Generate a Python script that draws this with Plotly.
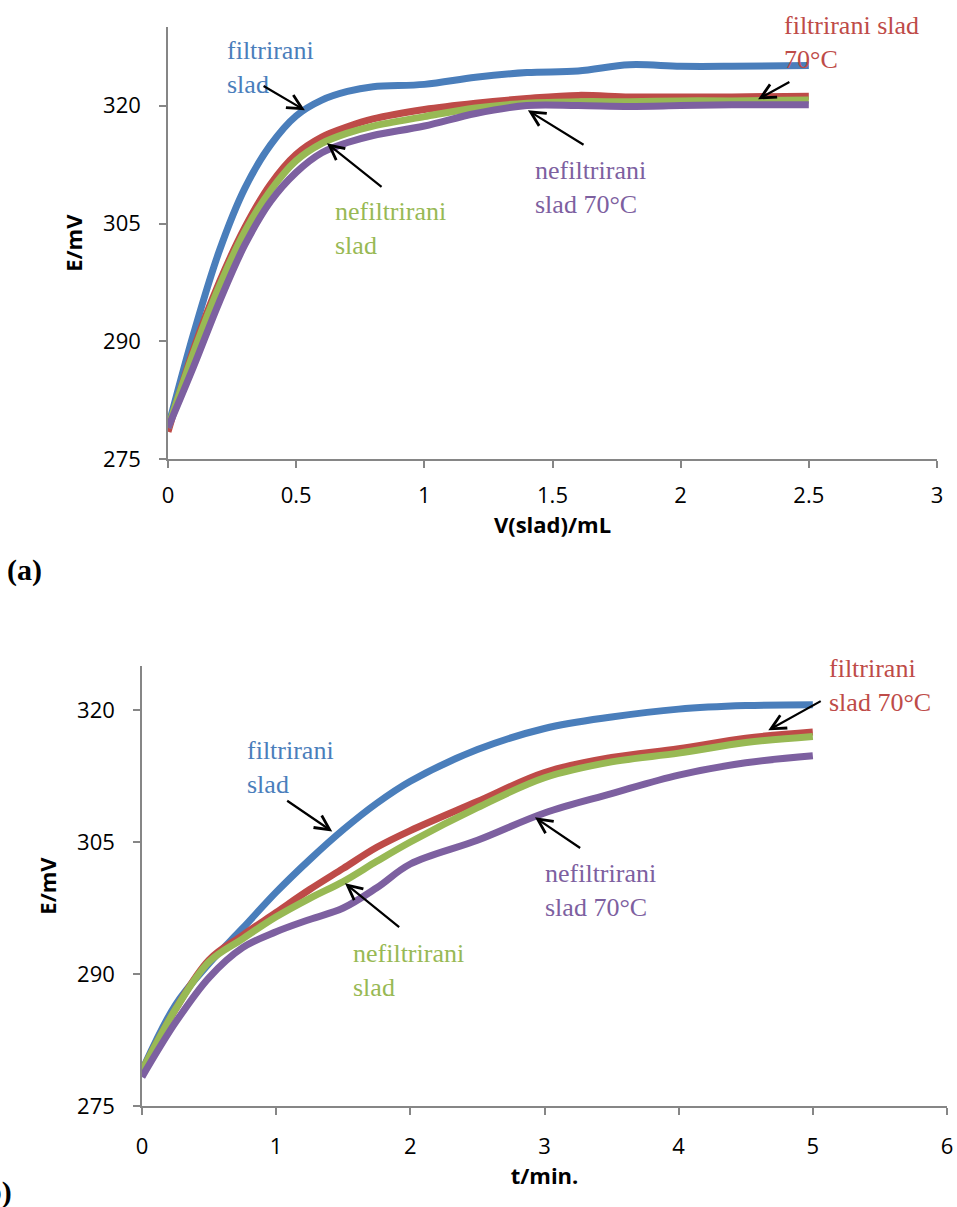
import plotly.graph_objects as go

W, H = 957, 1207

# ---------------- data: panel (a) ----------------
v_ml = [0, 0.1, 0.2, 0.3, 0.4, 0.5, 0.6, 0.7, 0.8, 1.0, 1.2, 1.4, 1.6, 1.8, 2.0, 2.2, 2.5]
a_filtrirani = [279, 291, 301.5, 309.5, 315, 318.7, 320.7, 321.8, 322.4, 322.7, 323.6, 324.2, 324.4, 325.2, 325.0, 325.0, 325.1]
a_filtrirani_70 = [278.5, 289, 297.5, 304.5, 310, 313.8, 316, 317.3, 318.3, 319.5, 320.3, 320.9, 321.3, 321.1, 321.1, 321.1, 321.2]
a_nefiltrirani = [279, 288.6, 297, 304, 309.2, 313, 315.2, 316.5, 317.4, 318.6, 319.7, 320.3, 320.5, 320.5, 320.6, 320.6, 320.7]
a_nefiltrirani_70 = [279, 286.8, 295, 302.3, 307.8, 311.5, 314, 315.3, 316.2, 317.4, 319, 320, 320, 319.9, 320, 320.1, 320.1]

# ---------------- data: panel (b) ----------------
t_min = [0, 0.25, 0.5, 0.75, 1.0, 1.25, 1.5, 1.75, 2.0, 2.5, 3.0, 3.5, 4.0, 4.5, 5.0]
b_filtrirani = [279, 286.5, 291.2, 295.2, 299.3, 303.0, 306.4, 309.4, 311.9, 315.5, 317.9, 319.2, 320.1, 320.5, 320.6]
b_filtrirani_70 = [279, 286, 291.6, 294.4, 297, 299.6, 302, 304.4, 306.3, 309.6, 312.9, 314.6, 315.6, 316.8, 317.5]
b_nefiltrirani = [279, 286, 291.4, 294, 296.5, 298.6, 300.5, 302.8, 305, 308.9, 312.3, 314.1, 315.1, 316.3, 317.0]
b_nefiltrirani_70 = [278.3, 284.5, 289.6, 293, 294.8, 296.2, 297.5, 299.8, 302.5, 305.2, 308.3, 310.5, 312.6, 314, 314.8]

y_ticks = [275, 290, 305, 320]
xa_ticks = [0, 0.5, 1, 1.5, 2, 2.5, 3]
xb_ticks = [0, 1, 2, 3, 4, 5, 6]

BLUE, RED, GREEN, PURPLE = "#4A7EBB", "#BE4B48", "#98B954", "#7D60A0"
AXIS = "#868686"
TICKFONT = dict(family="Open Sans", size=22, color="#000000")
TITLEFONT = dict(family="Open Sans", size=22, color="#000000", weight="bold")
LABELFONT = "Liberation Serif"

fig = go.Figure()

series_a = [(a_filtrirani, BLUE), (a_filtrirani_70, RED), (a_nefiltrirani, GREEN), (a_nefiltrirani_70, PURPLE)]
series_b = [(b_filtrirani, BLUE), (b_filtrirani_70, RED), (b_nefiltrirani, GREEN), (b_nefiltrirani_70, PURPLE)]
names = ["filtrirani slad", "filtrirani slad 70°C", "nefiltrirani slad", "nefiltrirani slad 70°C"]

for (ys, c), n in zip(series_a, names):
    fig.add_trace(go.Scatter(x=v_ml, y=ys, mode="lines", name=n, showlegend=False,
                             line=dict(color=c, width=7, shape="spline", smoothing=1.0),
                             xaxis="x", yaxis="y"))
for (ys, c), n in zip(series_b, names):
    fig.add_trace(go.Scatter(x=t_min, y=ys, mode="lines", name=n, showlegend=False,
                             line=dict(color=c, width=7, shape="spline", smoothing=1.0),
                             xaxis="x2", yaxis="y2"))

def px_x(p):
    return p / W

def px_y(p):
    return 1 - p / H

common_axis = dict(showline=True, linecolor=AXIS, linewidth=1.5, showgrid=False, zeroline=False,
                   ticks="outside", ticklen=7, tickcolor=AXIS, tickwidth=1.5, tickfont=TICKFONT,
                   mirror=False, automargin=False)

fig.update_layout(
    width=W, height=H, margin=dict(l=0, r=0, t=0, b=0, autoexpand=False),
    paper_bgcolor="white", plot_bgcolor="white", showlegend=False,
    xaxis=dict(domain=[px_x(168), px_x(937)], range=[0, 3], tickvals=xa_ticks,
               ticktext=[str(t) for t in xa_ticks], anchor="y", ticklabelstandoff=9,
               title=dict(text="V(slad)/mL", font=TITLEFONT, standoff=0), **common_axis),
    yaxis=dict(domain=[px_y(459.3), px_y(27)], range=[275, 330], tickvals=y_ticks,
               anchor="x", ticklabelstandoff=14,
               title=dict(text="E/mV", font=TITLEFONT, standoff=14), **common_axis),
    xaxis2=dict(domain=[px_x(142), px_x(947)], range=[0, 6], tickvals=xb_ticks,
                anchor="y2", ticklabelstandoff=13,
                title=dict(text="t/min.", font=TITLEFONT, standoff=6), **common_axis),
    yaxis2=dict(domain=[px_y(1106), px_y(666)], range=[275, 325], tickvals=y_ticks,
                anchor="x2", ticklabelstandoff=14,
                title=dict(text="E/mV", font=TITLEFONT, standoff=14), **common_axis),
)

# text labels (paper coordinates)
labels = [
    ("filtrirani<br>slad", BLUE, 225, 67),
    ("filtrirani slad<br>70°C", RED, 782, 42),
    ("nefiltrirani<br>slad", GREEN, 333, 228),
    ("nefiltrirani<br>slad 70°C", PURPLE, 533, 187),
    ("filtrirani<br>slad", BLUE, 245, 767),
    ("nefiltrirani<br>slad", GREEN, 351, 970),
    ("nefiltrirani<br>slad 70°C", PURPLE, 543, 890),
    ("filtrirani<br>slad 70°C", RED, 827, 685),
]
for txt, col, lx, cy in labels:
    fig.add_annotation(text=txt, xref="paper", yref="paper", x=px_x(lx), y=px_y(cy),
                       xanchor="left", yanchor="middle", align="left", showarrow=False,
                       font=dict(family=LABELFONT, size=26, color=col))

# arrows: (head x, head y, tail x, tail y, axis suffix)
arrows = [
    (0.534, 319.4, 0.367, 322.6, ""),
    (0.620, 315.2, 0.839, 309.5, ""),
    (1.404, 319.4, 1.627, 314.9, ""),
    (2.302, 320.8, 2.430, 323.1, ""),
    (1.418, 306.2, 1.071, 309.8, "2"),
    (1.513, 300.3, 1.928, 295.2, "2"),
    (2.929, 307.8, 3.277, 304.2, "2"),
    (4.668, 317.7, 5.07, 321.1, "2"),
]
for hx, hy, tx, ty, s in arrows:
    fig.add_annotation(x=hx, y=hy, ax=tx, ay=ty, xref="x" + s, yref="y" + s,
                       axref="x" + s, ayref="y" + s, text="", showarrow=True,
                       arrowhead=5, arrowsize=1.3, arrowwidth=2.2, arrowcolor="#000000",
                       standoff=0, startstandoff=0)

# panel letters
fig.add_annotation(text="<b>(a)</b>", xref="paper", yref="paper", x=px_x(5), y=px_y(570),
                   xanchor="left", yanchor="middle", showarrow=False,
                   font=dict(family=LABELFONT, size=30, color="#000000"))
fig.add_annotation(text="<b>(b)</b>", xref="paper", yref="paper", x=px_x(14), y=px_y(1192),
                   xanchor="right", yanchor="middle", showarrow=False,
                   font=dict(family=LABELFONT, size=30, color="#000000"))

fig.write_html("out.html", config={"displayModeBar": False},
               post_script="document.body.style.margin='0';document.body.style.overflow='hidden';")
